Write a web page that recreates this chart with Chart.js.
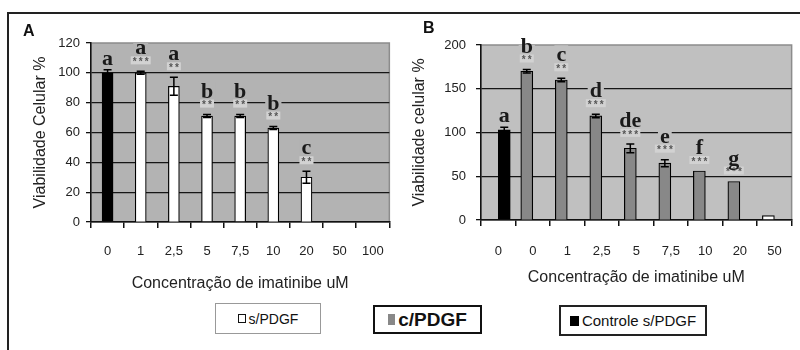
<!DOCTYPE html>
<html><head><meta charset="utf-8">
<script src="https://cdn.jsdelivr.net/npm/chart.js@4.4.1/dist/chart.umd.min.js"></script>
<style>
html,body{margin:0;padding:0;background:#fff;}
#wrap{position:relative;width:800px;height:350px;overflow:hidden;font-family:"Liberation Sans",Arial,sans-serif;color:#111;}
.cv{position:absolute;top:0;}
.frame{position:absolute;background:#222;}
.panel{position:absolute;font-weight:bold;font-size:16px;line-height:16px;color:#111;}
.leg{position:absolute;box-sizing:border-box;display:flex;align-items:center;justify-content:center;background:#fff;white-space:nowrap;}
.sw{display:inline-block;box-sizing:border-box;margin-right:3px;}
</style></head><body>
<div id="wrap">
  <canvas id="cA" class="cv" style="left:0px" width="400" height="300"></canvas>
  <canvas id="cB" class="cv" style="left:400px" width="400" height="300"></canvas>
  <div class="frame" style="left:7px;top:12px;width:793px;height:2px"></div>
  <div class="frame" style="left:7px;top:12px;width:2px;height:338px"></div>
  <div class="panel" style="left:23px;top:23px">A</div>
  <div class="panel" style="left:423px;top:20px">B</div>
  <div class="leg" style="left:215px;top:303px;width:106px;height:31px;border:1.5px solid #999;font-size:14px;">
    <span class="sw" style="width:8px;height:9px;border:1px solid #111;background:#fff"></span>s/PDGF</div>
  <div class="leg" style="left:373px;top:305px;width:109px;height:29px;border:2px solid #111;font-size:19px;font-weight:bold;">
    <span class="sw" style="width:7px;height:11px;background:#888"></span>c/PDGF</div>
  <div class="leg" style="left:559px;top:305px;width:148px;height:31px;border:2px solid #222;font-size:15px;">
    <span class="sw" style="width:9px;height:10px;background:#000"></span>Controle s/PDGF</div>
</div>
<script>
// ---------- data ----------
const catsA   = ['0','1','2,5','5','7,5','10','20','50','100'];
const whiteA  = [null,100,91,71,71,63,30,null,null];
const whiteErrA = [0,1,6,1,1,1,4,0,0];
const blackA  = [100,null,null,null,null,null,null,null,null];
const blackErrA = [2,0,0,0,0,0,0,0,0];
const lettersA = ['a','a','a','b','b','b','c','',''];
const starsA   = ['','***','**','**','**','**','**','',''];
const yTicksA  = {max:120, step:20};

const catsB   = ['0','0','1','2,5','5','7,5','10','20','50'];
const grayB   = [null,170,160,119,82,65,56,44,null];
const grayErrB = [0,2,2,2,5,4,0,0,0];
const whiteB  = [null,null,null,null,null,null,null,null,5];
const blackB  = [103,null,null,null,null,null,null,null,null];
const blackErrB = [3,0,0,0,0,0,0,0,0];
const lettersB = ['a','b','c','d','de','e','f','g',''];
const starsB   = ['','**','**','***','***','***','***','***',''];
const yTicksB  = {max:200, step:50};

const SANS = '"Liberation Sans", Arial, sans-serif';
const SERIF = '"Liberation Serif", "DejaVu Serif", serif';

function annotPlugin(bg, letters, stars){
  return {
    id:'annot',
    beforeDraw(chart){
      const {ctx, chartArea:a} = chart;
      ctx.save();
      ctx.fillStyle = bg;
      ctx.fillRect(a.left, a.top, a.right-a.left, a.bottom-a.top);
      ctx.strokeStyle = '#8c8c8c'; ctx.lineWidth = 1.5;
      ctx.strokeRect(a.left, a.top, a.right-a.left, a.bottom-a.top);
      ctx.restore();
    },
    afterDatasetsDraw(chart){
      const ctx = chart.ctx, ys = chart.scales.y, a = chart.chartArea;
      const n = chart.data.labels.length;
      const topVal = new Array(n).fill(null), xs = new Array(n).fill(null);
      ctx.save();
      chart.data.datasets.forEach((ds, di) => {
        const meta = chart.getDatasetMeta(di);
        ds.data.forEach((v, i) => {
          if (v == null) return;
          const e = ds.err ? ds.err[i] : 0;
          const el = meta.data[i];
          xs[i] = el.x;
          topVal[i] = Math.max(topVal[i] ?? -1e9, v + e);
          if (!e) return;
          const yt = ys.getPixelForValue(v + e), yb = ys.getPixelForValue(v - e);
          ctx.strokeStyle = '#000'; ctx.lineWidth = 1.5;
          ctx.beginPath();
          ctx.moveTo(el.x, yt); ctx.lineTo(el.x, yb);
          ctx.moveTo(el.x - 4, yt); ctx.lineTo(el.x + 4, yt);
          ctx.moveTo(el.x - 4, yb); ctx.lineTo(el.x + 4, yb);
          ctx.stroke();
        });
      });
      for (let i = 0; i < n; i++) {
        if (xs[i] == null || !letters[i]) continue;
        const x = xs[i], top = ys.getPixelForValue(topVal[i]);
        let base;
        if (stars[i]) {
          const sy = top - 11;
          const k = stars[i].length, sp = 6;
          const w = (k - 1) * sp + 6;
          ctx.save();
          ctx.beginPath(); ctx.rect(a.left, a.top, a.right - a.left, a.bottom - a.top); ctx.clip();
          ctx.fillStyle = '#d2d2d2';
          ctx.fillRect(x - w/2 - 1, sy - 4, w + 2, 8);
          ctx.restore();
          ctx.fillStyle = '#555';
          ctx.font = 'bold 10px ' + SANS;
          ctx.textAlign = 'center'; ctx.textBaseline = 'middle';
          for (let j = 0; j < k; j++) ctx.fillText('*', x - (k-1)*sp/2 + j*sp, sy + 2);
          base = sy - 6;
        } else {
          base = top - 5;
        }
        ctx.font = 'bold 22px ' + SERIF;
        const tw = ctx.measureText(letters[i]).width;
        ctx.save();
        ctx.beginPath(); ctx.rect(a.left, a.top, a.right - a.left, a.bottom - a.top); ctx.clip();
        ctx.fillStyle = bg;
        ctx.fillRect(x - tw/2 - 2, base - 16, tw + 4, 17);
        ctx.restore();
        ctx.fillStyle = '#1a1a1a';
        ctx.textAlign = 'center'; ctx.textBaseline = 'alphabetic';
        ctx.fillText(letters[i], x, base);
      }
      ctx.restore();
    }
  };
}

function makeChart(id, cats, datasets, yt, yTitle, g, bg, letters, stars){
  return new Chart(document.getElementById(id), {
    type:'bar',
    data:{ labels:cats, datasets },
    plugins:[annotPlugin(bg, letters, stars)],
    options:{
      responsive:false, animation:false, events:[],
      layout:{ padding:{ left:0, top:g.padTop, right:g.padRight, bottom:0 } },
      plugins:{ legend:{display:false}, tooltip:{enabled:false} },
      datasets:{ bar:{ barThickness:g.bar } },
      scales:{
        x:{
          grid:{ display:true, drawOnChartArea:false, drawTicks:true, tickLength:6, tickColor:'#111', offset:true, lineWidth:1.5 },
          border:{ display:true, color:'#111', width:1.5 },
          ticks:{ color:'#222', font:{family:SANS, size:13}, padding:g.xTickPad, maxRotation:0, autoSkip:false },
          title:{ display:true, text:'Concentração de imatinibe uM', color:'#222', font:{family:SANS, size:16}, padding:{top:0, bottom:g.xTitlePad} },
          afterFit(s){ s.height = g.xHeight; }
        },
        y:{
          min:0, max:yt.max,
          ticks:{ stepSize:yt.step, color:'#222', font:{family:SANS, size:13}, padding:g.yTickPad },
          grid:{ color:(c)=> (c.tick && (c.tick.value === 0 || c.tick.value === yt.max)) ? 'rgba(0,0,0,0)' : '#161616',
                 lineWidth:1.3, tickLength:5, tickColor:'#111' },
          border:{ display:true, color:'#111', width:1.5 },
          title:{ display:true, text:yTitle, color:'#222', font:{family:SANS, size:16}, padding:{top:g.yTitlePad, bottom:0} },
          afterFit(s){ s.width = g.yWidth; }
        }
      }
    }
  });
}

makeChart('cA', catsA, [
  { label:'s/PDGF', data:whiteA, err:whiteErrA, backgroundColor:'#ffffff', borderColor:'#000', borderWidth:1.2, stack:'s1' },
  { label:'Controle s/PDGF', data:blackA, err:blackErrA, backgroundColor:'#000000', borderColor:'#000', borderWidth:1, stack:'s1' }
], yTicksA, 'Viabilidade Celular %',
  { padTop:43, padRight:7, yWidth:91, xHeight:78, bar:11, xTickPad:16, xTitlePad:7, yTickPad:6, yTitlePad:31 },
  '#b3b3b3', lettersA, starsA);

makeChart('cB', catsB, [
  { label:'s/PDGF', data:whiteB, err:null, backgroundColor:'#ffffff', borderColor:'#000', borderWidth:1.2, stack:'s1' },
  { label:'c/PDGF', data:grayB, err:grayErrB, backgroundColor:'#888888', borderColor:'#000', borderWidth:1.2, stack:'s1' },
  { label:'Controle s/PDGF', data:blackB, err:blackErrB, backgroundColor:'#000000', borderColor:'#000', borderWidth:1, stack:'s2' }
], yTicksB, 'Viabilidade celular %',
  { padTop:45, padRight:7, yWidth:81, xHeight:80, bar:12, xTickPad:18, xTitlePad:13, yTickPad:10, yTitlePad:10 },
  '#c0c0c0', lettersB, starsB);
</script>
</body></html>
